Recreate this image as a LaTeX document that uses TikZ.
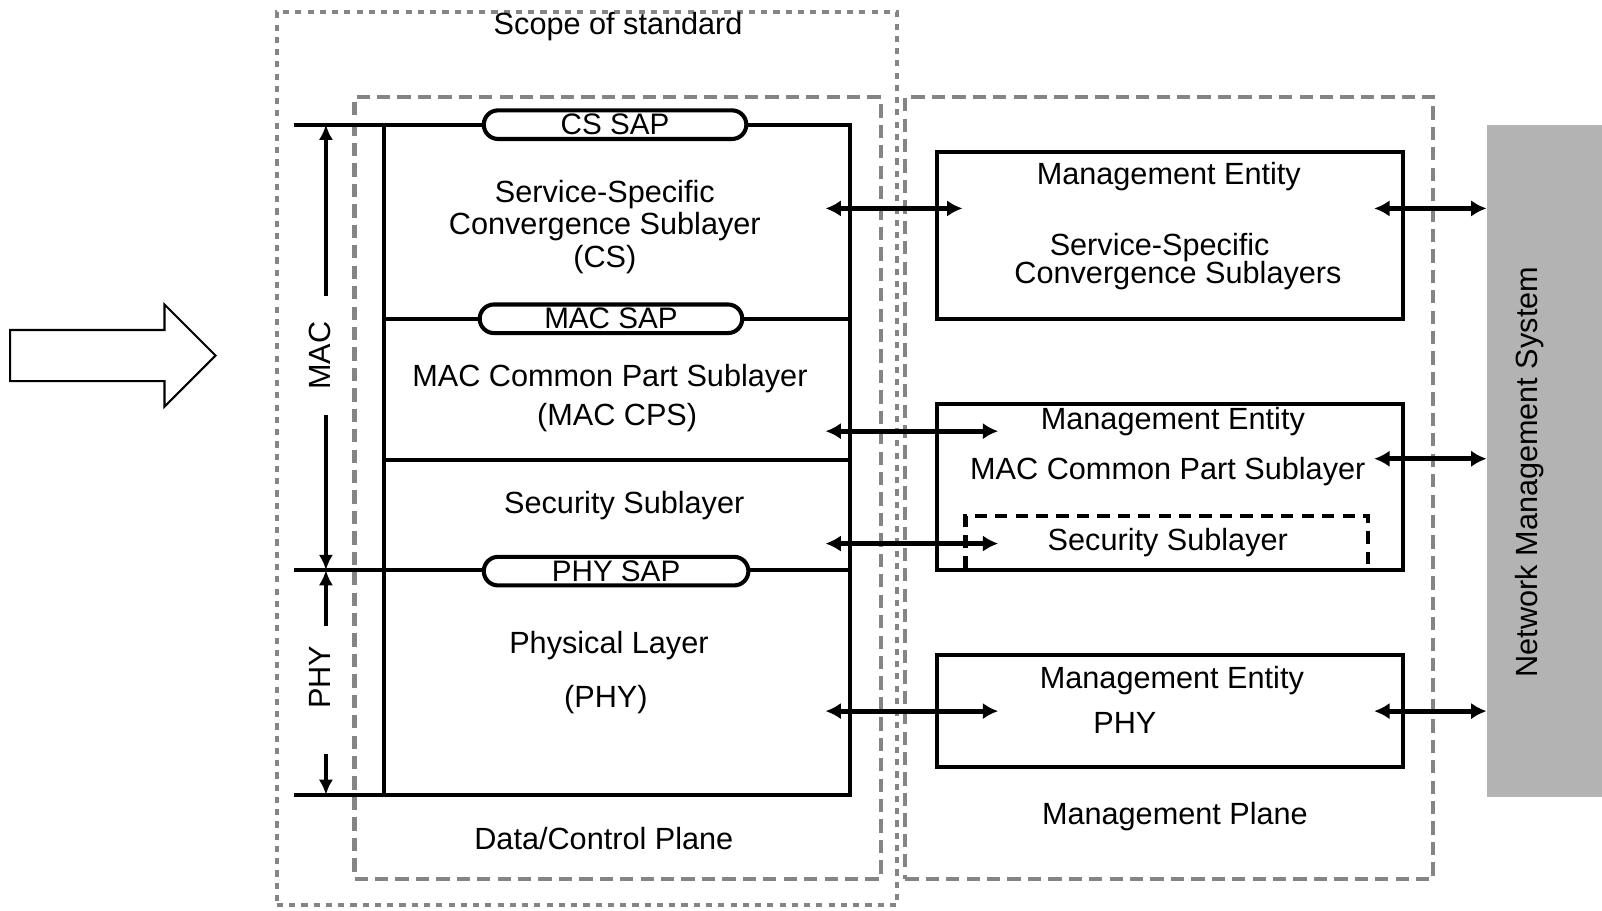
\documentclass[tikz,border=0pt]{standalone}
\usepackage{fontspec}
\setmainfont{Liberation Sans}
\usetikzlibrary{arrows.meta}
\definecolor{dashgray}{HTML}{858585}
\definecolor{nmsgray}{HTML}{B3B3B3}
\begin{document}
\begin{tikzpicture}[x=0.5pt,y=-0.5pt,
  txt/.style={font=\fontsize{15}{16}\selectfont, inner sep=0pt, align=center},
  gdot/.style={draw=dashgray, line width=2pt, dash pattern=on 3pt off 3pt, inner sep=0pt, outer sep=0pt},
  gdash/.style={draw=dashgray, line width=2pt, dash pattern=on 6.5pt off 3.5pt, inner sep=0pt, outer sep=0pt},
  blk/.style={draw=black, line width=2pt, inner sep=0pt, outer sep=0pt},
  layer/.style={blk, minimum width=228pt},
  sap/.style={draw=black, line width=2pt, fill=white, rounded corners=7pt, minimum height=14pt, inner sep=0pt, font=\fontsize{14.5}{15}\selectfont},
  mebox/.style={blk, minimum width=228pt},
  dbl/.style={line width=2.4pt, {Latex[length=7.5pt,width=8pt]}-{Latex[length=7.5pt,width=8pt]}},
  dim/.style={line width=2.2pt, -{Latex[length=7.5pt,width=7pt]}},
]
\useasboundingbox (0,0) rectangle (1568,891);

% frames
\node[gdot, minimum width=303.5pt, minimum height=437pt] (scope) at (574.5,449) {};
\node[gdash, minimum width=257.5pt, minimum height=382.5pt] (dcp) at (604.5,477.5) {};
\node[gdash, minimum width=258.5pt, minimum height=382.5pt] (mp) at (1144.5,477.5) {};
\node[txt] (scopelbl) at (605,26) {Scope of standard};
\node[txt] (dcplbl) at (591,821) {Data/Control Plane};
\node[txt] (mplbl) at (1150,799) {Management Plane};

% hollow arrow
\draw[line width=1pt] (10,323) -- (161,323) -- (161,298) -- (211,348) -- (161,398) -- (161,373) -- (10,373) -- cycle;

% stack
\node[layer, minimum height=95pt] (cs) at (604,217) {};
\node[layer, minimum height=69pt] (cps) at (604,381) {};
\node[layer, minimum height=54pt] (sec) at (604,504) {};
\node[layer, minimum height=110pt] (phy) at (604,668) {};
\coordinate (extT) at (288,122);
\coordinate (extM) at (288,558);
\coordinate (extB) at (288,778);
\draw[blk] (cs.north west) -- (extT);
\draw[blk] (phy.north west) -- (extM);
\draw[blk] (phy.south west) -- (extB);

\node[sap, minimum width=128.5pt] (cssap) at (602,122) {CS SAP};
\node[sap, minimum width=128.5pt] (macsap) at (598,312) {MAC SAP};
\node[sap, minimum width=129.5pt] (physap) at (603,559) {PHY SAP};

\node[txt] (cstxt) at (592,222) {Service-Specific\\Convergence Sublayer\\(CS)};
\node[txt] (cpstxt1) at (597,371) {MAC Common Part Sublayer};
\node[txt] (cpstxt2) at (604,409) {(MAC CPS)};
\node[txt] (sectxt) at (611,495) {Security Sublayer};
\node[txt] (phytxt1) at (596,632) {Physical Layer};
\node[txt] (phytxt2) at (593,685) {(PHY)};

% MAC / PHY dimension
\node[txt, rotate=90] (maclbl) at (313,348) {MAC};
\node[txt, rotate=90] (phylbl) at (313,663) {PHY};
\coordinate (macT) at (319,122);
\coordinate (macB) at (319,558);
\coordinate (phyT) at (319,558);
\coordinate (phyB) at (319,778);
\draw[dim] (319,290) -- (macT);
\draw[dim] (319,406) -- (macB);
\draw[dim] (319,613) -- (phyT);
\draw[dim] (319,738) -- (phyB);

% management entities
\node[mebox, minimum height=81.5pt] (me1) at (1145,230.5) {};
\node[mebox, minimum height=81.5pt] (me2) at (1145,476.5) {};
\node[mebox, minimum height=55pt] (me3) at (1145,696) {};
\node[draw=black, line width=2pt, dash pattern=on 6pt off 4pt, minimum width=197pt, minimum height=26.5pt, inner sep=0pt] (mesec) at (1142,531.5) {};

\node[txt] (me1a) at (1144,173) {Management Entity};
\node[txt] (me1b) at (1135,242) {Service-Specific};
\node[txt] (me1c) at (1153,270) {Convergence Sublayers};
\node[txt] (me2a) at (1148,413) {Management Entity};
\node[txt] (me2b) at (1143,462) {MAC Common Part Sublayer};
\node[txt] (me2c) at (1143,531) {Security Sublayer};
\node[txt] (me3a) at (1147,666) {Management Entity};
\node[txt] (me3b) at (1101,708) {PHY};

% network management system
\node[fill=nmsgray, minimum width=56.5pt, minimum height=329pt, inner sep=0pt] (nms) at (1511.5,451) {};
\node[txt, rotate=90] (nmstxt) at (1497,462) {Network Management System};

% connectors
\coordinate (l1a) at (808,204); \coordinate (l1b) at (942,204);
\coordinate (l2a) at (808,422); \coordinate (l2b) at (977,422);
\coordinate (l3a) at (808,532); \coordinate (l3b) at (977,532);
\coordinate (l4a) at (808,696); \coordinate (l4b) at (977,696);
\coordinate (r1a) at (1345,204); \coordinate (r1b) at (1455,204);
\coordinate (r2a) at (1345,449); \coordinate (r2b) at (1455,449);
\coordinate (r3a) at (1345,696); \coordinate (r3b) at (1455,696);
\draw[dbl] (l1a) -- (l1b);
\draw[dbl] (l2a) -- (l2b);
\draw[dbl] (l3a) -- (l3b);
\draw[dbl] (l4a) -- (l4b);
\draw[dbl] (r1a) -- (r1b);
\draw[dbl] (r2a) -- (r2b);
\draw[dbl] (r3a) -- (r3b);
\end{tikzpicture}
\end{document}
